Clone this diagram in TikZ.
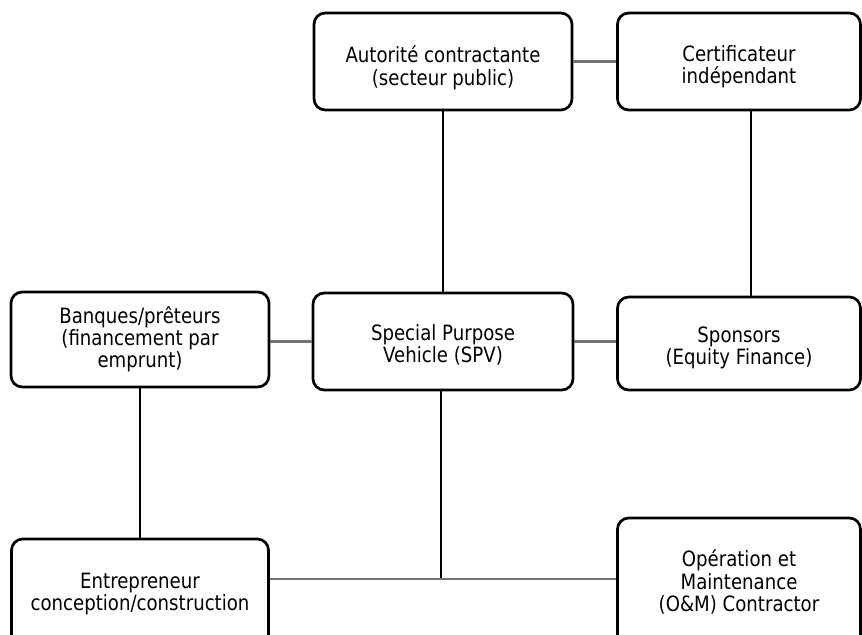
\documentclass[tikz,border=0pt]{standalone}
\usepackage{fontspec}
\setmainfont{DejaVu Sans}[FakeStretch=0.86]
\begin{document}
\begin{tikzpicture}[x = 0.025cm, y = -0.025cm,
            box/.style = {draw = black, line width = 1.9pt, rounded corners = 8pt, align = center,
                font = \fontsize{15}{15.8}\selectfont, inner sep = 0pt},
            link/.style = {black, line width = 1.5pt},
            flat/.style = {black!55, line width = 2pt}]
            \useasboundingbox (0,0) rectangle (862,635);
            \clip (0,0) rectangle (862,635);
            \node[box, minimum width = 258*0.025cm, minimum height = 97*0.025cm] (aut) at (443,61.5) {\rule{0pt}{21pt}Autorité contractante\\(secteur public)};
            \node[box, minimum width = 243*0.025cm, minimum height = 97*0.025cm] (cert) at (739,61.5) {\rule{0pt}{19pt}Certificateur\\indépendant};
            \node[box, minimum width = 258*0.025cm, minimum height = 95*0.025cm] (bank) at (140,339.5) {Banques/prêteurs\\(financement par\\emprunt)};
            \node[box, minimum width = 260*0.025cm, minimum height = 97*0.025cm] (spv) at (443,341.5) {\rule{0pt}{16pt}Special Purpose\\Vehicle (SPV)};
            \node[box, minimum width = 243*0.025cm, minimum height = 93*0.025cm] (spons) at (739,343.5) {\rule{0pt}{17pt}Sponsors\\(Equity Finance)};
            \node[box, minimum width = 257*0.025cm, minimum height = 110*0.025cm] (entr) at (140,594) {Entrepreneur\\conception/construction};
            \node[box, minimum width = 243*0.025cm, minimum height = 128*0.025cm] (om) at (739,582) {Opération et\\Maintenance\\(O\&M) Contractor};
            \coordinate (jn) at (441,579);

            \draw[flat] (aut.east) -- (cert.west);
            \draw[link] (aut.south) -- (spv.north);
            \draw[link] ([xshift = 12*0.025cm]cert.south) -- ([xshift = 12*0.025cm]cert.south |- spons.north);
            \draw[flat] (spv.west -| bank.east) -- (spv.west);
            \draw[flat] (spv.east) -- (spv.east -| spons.west);
            \draw[link] (bank.south) -- (entr.north);
            \draw[link] (spv.south -| jn) -- (jn);
            \draw[flat] (entr.east |- jn) -- (om.west |- jn);
        \end{tikzpicture}
\end{document}
